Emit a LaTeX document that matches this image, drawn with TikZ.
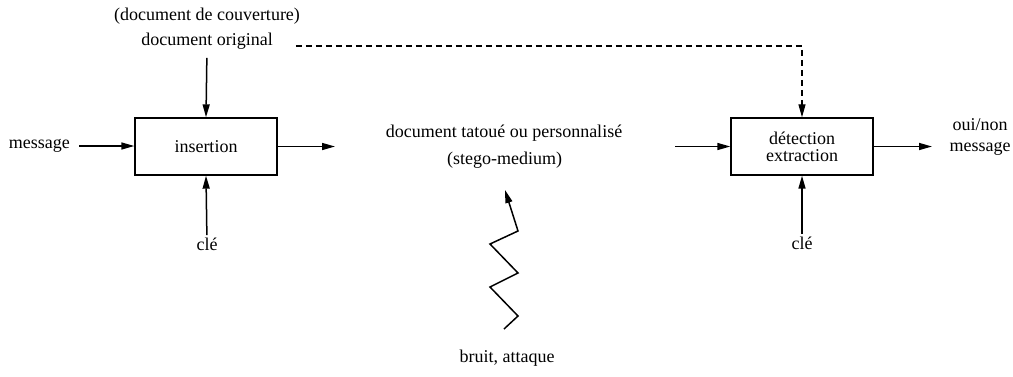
\documentclass[tikz,border=0pt]{standalone}
\usepackage{fontspec}
\setmainfont{Liberation Serif}
\usetikzlibrary{arrows.meta}
\begin{document}
\begin{tikzpicture}[x=1pt,y=-1pt,
  lbl/.style={inner sep=0pt, font=\fontsize{18}{17}\selectfont, text height=0.7em, text depth=0.25em, align=center},
  blk/.style={draw, line width=1.4pt, minimum width=142pt, minimum height=57pt, inner sep=0pt, align=center, font=\fontsize{18}{17}\selectfont},
  flow/.style={line width=1.5pt, -{Triangle[length=13pt,width=7pt]}},
  dashflow/.style={line width=1.2pt, dash pattern=on 6pt off 4pt, -{Triangle[length=13pt,width=7pt]}}]
\useasboundingbox (0,0) rectangle (1013,376);

% embedding side
\node[blk] (ins) at (206,146.5) {insertion};
\node[lbl] (cover) at (207,18) {(document de couverture)};
\node[lbl] (orig) at (207,43) {document original};
\node[lbl, anchor=east] (msg) at (70,146) {message};
\node[lbl] (key1) at (207,248) {clé};
\coordinate (o1) at (335,146.5);

\draw[flow, shorten <=10pt] (orig.south) -- (ins.north);
\draw[flow, shorten <=9pt] (msg.east) -- (ins.west |- msg.east);
\draw[flow, shorten <=8pt] (key1.north) -- (ins.south);
\draw[flow] (ins.east |- o1) -- (o1);

% transmitted document and noise
\node[lbl] (stego) at (504,135) {document tatoué ou personnalisé};
\node[lbl] (stegom) at (504.5,162) {(stego-medium)};
\node[lbl] (noise) at (507,360) {bruit, attaque};
\coordinate (z0) at (504,329);
\draw[flow, line join=miter] (z0) -- (518,316) -- (490,287) -- (518,273) -- (490,244) -- (518,231) -- (505,190);

% detection side
\node[blk] (det) at (802,146.5) {détection\\extraction};
\node[lbl] (key2) at (802,247) {clé};
\node[lbl, font=\fontsize{18}{21.5}\selectfont] (out) at (980,149.5) {oui/non\\message};
\coordinate (d1) at (675,146.5);
\coordinate (o2) at (932,146.5);

\draw[flow] (d1) -- (det.west |- d1);
\draw[flow] (det.east |- o2) -- (o2);
\draw[flow, shorten <=8pt] (key2.north) -- (det.south);
\draw[dashflow] (orig.east) ++(23,3) -| (det.north);
\end{tikzpicture}
\end{document}
